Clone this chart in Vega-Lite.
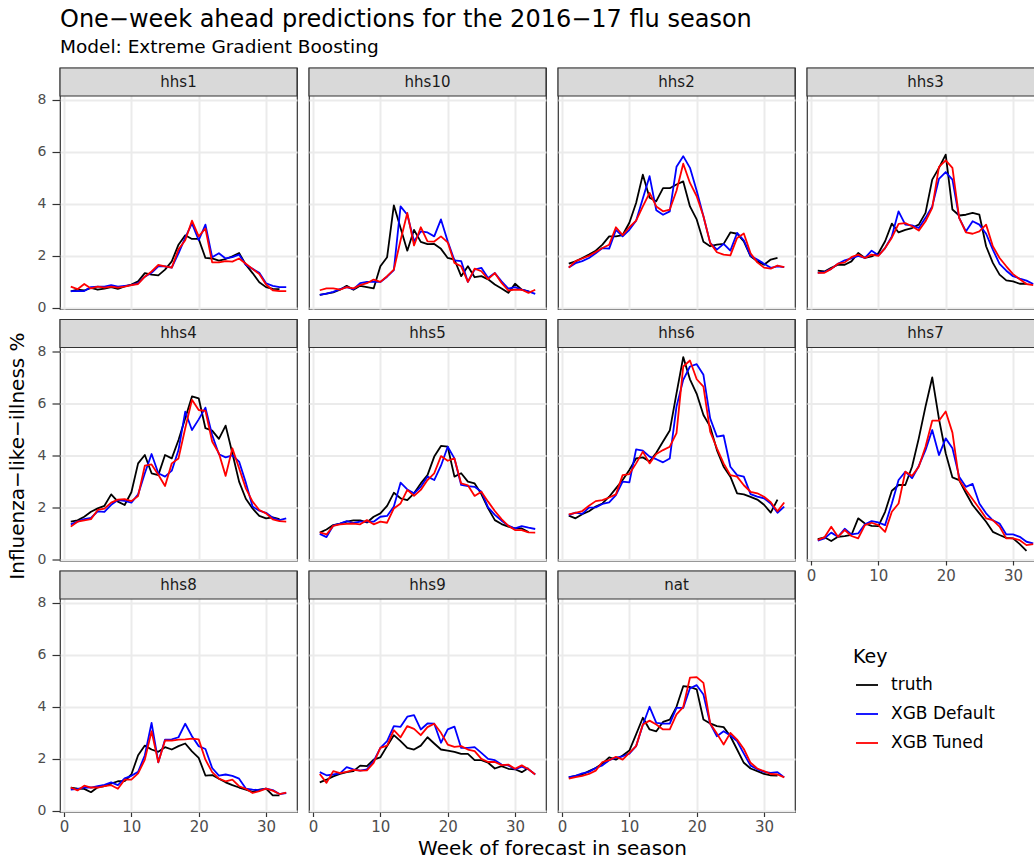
{
"$schema":"https://vega.github.io/schema/vega-lite/v6.json",
"padding":{"left":6,"top":8,"right":0,"bottom":2},
"title":{"text":"One−week ahead predictions for the 2016−17 flu season","subtitle":"Model: Extreme Gradient Boosting","anchor":"start","frame":"group","font":"DejaVu Sans","fontSize":24,"fontWeight":"normal","color":"#000000","subtitleFont":"DejaVu Sans","subtitleFontSize":18.5,"subtitleColor":"#000000","subtitlePadding":6,"offset":10},
"datasets":{"flu":[
{"region":"hhs1","week":1,"truth":0.64,"XGB Default":0.65,"XGB Tuned":0.82},
{"region":"hhs1","week":2,"truth":0.7,"XGB Default":0.65,"XGB Tuned":0.72},
{"region":"hhs1","week":3,"truth":0.67,"XGB Default":0.65,"XGB Tuned":0.92},
{"region":"hhs1","week":4,"truth":0.77,"XGB Default":0.8,"XGB Tuned":0.75},
{"region":"hhs1","week":5,"truth":0.7,"XGB Default":0.82,"XGB Tuned":0.82},
{"region":"hhs1","week":6,"truth":0.74,"XGB Default":0.82,"XGB Tuned":0.78},
{"region":"hhs1","week":7,"truth":0.8,"XGB Default":0.88,"XGB Tuned":0.82},
{"region":"hhs1","week":8,"truth":0.73,"XGB Default":0.82,"XGB Tuned":0.78},
{"region":"hhs1","week":9,"truth":0.83,"XGB Default":0.85,"XGB Tuned":0.82},
{"region":"hhs1","week":10,"truth":0.9,"XGB Default":0.88,"XGB Tuned":0.88},
{"region":"hhs1","week":11,"truth":1.02,"XGB Default":0.95,"XGB Tuned":0.92},
{"region":"hhs1","week":12,"truth":1.34,"XGB Default":1.2,"XGB Tuned":1.2},
{"region":"hhs1","week":13,"truth":1.28,"XGB Default":1.35,"XGB Tuned":1.4},
{"region":"hhs1","week":14,"truth":1.25,"XGB Default":1.6,"XGB Tuned":1.65},
{"region":"hhs1","week":15,"truth":1.47,"XGB Default":1.6,"XGB Tuned":1.6},
{"region":"hhs1","week":16,"truth":1.79,"XGB Default":1.55,"XGB Tuned":1.55},
{"region":"hhs1","week":17,"truth":2.43,"XGB Default":2.1,"XGB Tuned":2.25},
{"region":"hhs1","week":18,"truth":2.79,"XGB Default":2.7,"XGB Tuned":2.6},
{"region":"hhs1","week":19,"truth":2.65,"XGB Default":3.25,"XGB Tuned":3.35},
{"region":"hhs1","week":20,"truth":2.65,"XGB Default":2.6,"XGB Tuned":2.75},
{"region":"hhs1","week":21,"truth":1.92,"XGB Default":3.2,"XGB Tuned":3.05},
{"region":"hhs1","week":22,"truth":1.9,"XGB Default":1.95,"XGB Tuned":1.75},
{"region":"hhs1","week":23,"truth":1.82,"XGB Default":2.1,"XGB Tuned":1.75},
{"region":"hhs1","week":24,"truth":1.88,"XGB Default":1.9,"XGB Tuned":1.8},
{"region":"hhs1","week":25,"truth":1.98,"XGB Default":1.95,"XGB Tuned":1.78},
{"region":"hhs1","week":26,"truth":2.11,"XGB Default":2.05,"XGB Tuned":1.9},
{"region":"hhs1","week":27,"truth":1.66,"XGB Default":1.65,"XGB Tuned":1.7},
{"region":"hhs1","week":28,"truth":1.34,"XGB Default":1.5,"XGB Tuned":1.5},
{"region":"hhs1","week":29,"truth":0.99,"XGB Default":1.35,"XGB Tuned":1.3},
{"region":"hhs1","week":30,"truth":0.8,"XGB Default":0.95,"XGB Tuned":0.9},
{"region":"hhs1","week":31,"truth":0.73,"XGB Default":0.85,"XGB Tuned":0.68},
{"region":"hhs1","week":32,"truth":0.72,"XGB Default":0.8,"XGB Tuned":0.65},
{"region":"hhs1","week":33,"XGB Default":0.8,"XGB Tuned":0.65},
{"region":"hhs10","week":1,"truth":0.5,"XGB Default":0.5,"XGB Tuned":0.68},
{"region":"hhs10","week":2,"truth":0.55,"XGB Default":0.55,"XGB Tuned":0.75},
{"region":"hhs10","week":3,"truth":0.6,"XGB Default":0.62,"XGB Tuned":0.75},
{"region":"hhs10","week":4,"truth":0.7,"XGB Default":0.72,"XGB Tuned":0.7},
{"region":"hhs10","week":5,"truth":0.85,"XGB Default":0.8,"XGB Tuned":0.8},
{"region":"hhs10","week":6,"truth":0.7,"XGB Default":0.72,"XGB Tuned":0.75},
{"region":"hhs10","week":7,"truth":0.85,"XGB Default":0.95,"XGB Tuned":0.88},
{"region":"hhs10","week":8,"truth":0.8,"XGB Default":1.0,"XGB Tuned":0.95},
{"region":"hhs10","week":9,"truth":0.75,"XGB Default":1.0,"XGB Tuned":1.09},
{"region":"hhs10","week":10,"truth":1.6,"XGB Default":1.0,"XGB Tuned":1.0},
{"region":"hhs10","week":11,"truth":1.95,"XGB Default":1.2,"XGB Tuned":1.22},
{"region":"hhs10","week":12,"truth":3.94,"XGB Default":1.45,"XGB Tuned":1.47},
{"region":"hhs10","week":13,"truth":3.07,"XGB Default":3.9,"XGB Tuned":2.6},
{"region":"hhs10","week":14,"truth":2.2,"XGB Default":3.58,"XGB Tuned":3.65},
{"region":"hhs10","week":15,"truth":3.0,"XGB Default":2.56,"XGB Tuned":2.4},
{"region":"hhs10","week":16,"truth":2.54,"XGB Default":2.94,"XGB Tuned":3.1},
{"region":"hhs10","week":17,"truth":2.45,"XGB Default":2.9,"XGB Tuned":2.56},
{"region":"hhs10","week":18,"truth":2.46,"XGB Default":2.75,"XGB Tuned":2.55},
{"region":"hhs10","week":19,"truth":2.27,"XGB Default":3.4,"XGB Tuned":2.75},
{"region":"hhs10","week":20,"truth":1.92,"XGB Default":2.56,"XGB Tuned":2.52},
{"region":"hhs10","week":21,"truth":1.86,"XGB Default":1.83,"XGB Tuned":1.73},
{"region":"hhs10","week":22,"truth":1.22,"XGB Default":1.8,"XGB Tuned":1.6},
{"region":"hhs10","week":23,"truth":1.6,"XGB Default":1.0,"XGB Tuned":1.0},
{"region":"hhs10","week":24,"truth":1.18,"XGB Default":1.47,"XGB Tuned":1.51},
{"region":"hhs10","week":25,"truth":1.22,"XGB Default":1.54,"XGB Tuned":1.41},
{"region":"hhs10","week":26,"truth":1.1,"XGB Default":1.15,"XGB Tuned":1.11},
{"region":"hhs10","week":27,"truth":0.9,"XGB Default":1.34,"XGB Tuned":1.34},
{"region":"hhs10","week":28,"truth":0.75,"XGB Default":1.02,"XGB Tuned":0.96},
{"region":"hhs10","week":29,"truth":0.58,"XGB Default":0.74,"XGB Tuned":0.67},
{"region":"hhs10","week":30,"truth":0.93,"XGB Default":0.8,"XGB Tuned":0.7},
{"region":"hhs10","week":31,"truth":0.7,"XGB Default":0.7,"XGB Tuned":0.7},
{"region":"hhs10","week":32,"truth":0.64,"XGB Default":0.64,"XGB Tuned":0.58},
{"region":"hhs10","week":33,"XGB Default":0.54,"XGB Tuned":0.7},
{"region":"hhs2","week":1,"truth":1.7,"XGB Default":1.55,"XGB Tuned":1.55},
{"region":"hhs2","week":2,"truth":1.79,"XGB Default":1.72,"XGB Tuned":1.8},
{"region":"hhs2","week":3,"truth":1.92,"XGB Default":1.8,"XGB Tuned":1.9},
{"region":"hhs2","week":4,"truth":2.05,"XGB Default":1.92,"XGB Tuned":2.0},
{"region":"hhs2","week":5,"truth":2.2,"XGB Default":2.1,"XGB Tuned":2.15},
{"region":"hhs2","week":6,"truth":2.43,"XGB Default":2.3,"XGB Tuned":2.3},
{"region":"hhs2","week":7,"truth":2.75,"XGB Default":2.28,"XGB Tuned":2.43},
{"region":"hhs2","week":8,"truth":2.75,"XGB Default":3.0,"XGB Tuned":3.1},
{"region":"hhs2","week":9,"truth":2.8,"XGB Default":2.75,"XGB Tuned":2.8},
{"region":"hhs2","week":10,"truth":3.27,"XGB Default":3.0,"XGB Tuned":3.1},
{"region":"hhs2","week":11,"truth":4.03,"XGB Default":3.35,"XGB Tuned":3.35},
{"region":"hhs2","week":12,"truth":5.12,"XGB Default":4.2,"XGB Tuned":3.9},
{"region":"hhs2","week":13,"truth":4.23,"XGB Default":5.06,"XGB Tuned":4.42},
{"region":"hhs2","week":14,"truth":4.1,"XGB Default":3.75,"XGB Tuned":3.9},
{"region":"hhs2","week":15,"truth":4.6,"XGB Default":3.58,"XGB Tuned":3.71},
{"region":"hhs2","week":16,"truth":4.6,"XGB Default":3.71,"XGB Tuned":3.78},
{"region":"hhs2","week":17,"truth":4.74,"XGB Default":5.42,"XGB Tuned":4.5},
{"region":"hhs2","week":18,"truth":4.86,"XGB Default":5.83,"XGB Tuned":5.54},
{"region":"hhs2","week":19,"truth":3.9,"XGB Default":5.38,"XGB Tuned":4.8},
{"region":"hhs2","week":20,"truth":3.4,"XGB Default":4.5,"XGB Tuned":4.29},
{"region":"hhs2","week":21,"truth":2.54,"XGB Default":3.52,"XGB Tuned":3.52},
{"region":"hhs2","week":22,"truth":2.37,"XGB Default":2.5,"XGB Tuned":2.5},
{"region":"hhs2","week":23,"truth":2.43,"XGB Default":2.24,"XGB Tuned":2.14},
{"region":"hhs2","week":24,"truth":2.46,"XGB Default":2.46,"XGB Tuned":2.05},
{"region":"hhs2","week":25,"truth":2.9,"XGB Default":2.2,"XGB Tuned":2.02},
{"region":"hhs2","week":26,"truth":2.85,"XGB Default":2.88,"XGB Tuned":2.69},
{"region":"hhs2","week":27,"truth":2.56,"XGB Default":2.6,"XGB Tuned":2.86},
{"region":"hhs2","week":28,"truth":1.98,"XGB Default":2.0,"XGB Tuned":2.1},
{"region":"hhs2","week":29,"truth":1.79,"XGB Default":1.86,"XGB Tuned":1.75},
{"region":"hhs2","week":30,"truth":1.66,"XGB Default":1.7,"XGB Tuned":1.55},
{"region":"hhs2","week":31,"truth":1.86,"XGB Default":1.54,"XGB Tuned":1.51},
{"region":"hhs2","week":32,"truth":1.92,"XGB Default":1.6,"XGB Tuned":1.63},
{"region":"hhs2","week":33,"XGB Default":1.57,"XGB Tuned":1.57},
{"region":"hhs3","week":1,"truth":1.43,"XGB Default":1.35,"XGB Tuned":1.35},
{"region":"hhs3","week":2,"truth":1.4,"XGB Default":1.38,"XGB Tuned":1.35},
{"region":"hhs3","week":3,"truth":1.54,"XGB Default":1.5,"XGB Tuned":1.5},
{"region":"hhs3","week":4,"truth":1.66,"XGB Default":1.7,"XGB Tuned":1.7},
{"region":"hhs3","week":5,"truth":1.66,"XGB Default":1.83,"XGB Tuned":1.75},
{"region":"hhs3","week":6,"truth":1.79,"XGB Default":1.9,"XGB Tuned":1.95},
{"region":"hhs3","week":7,"truth":2.11,"XGB Default":2.0,"XGB Tuned":2.05},
{"region":"hhs3","week":8,"truth":1.92,"XGB Default":1.92,"XGB Tuned":1.92},
{"region":"hhs3","week":9,"truth":1.98,"XGB Default":2.2,"XGB Tuned":2.05},
{"region":"hhs3","week":10,"truth":2.1,"XGB Default":2.02,"XGB Tuned":2.0},
{"region":"hhs3","week":11,"truth":2.56,"XGB Default":2.3,"XGB Tuned":2.3},
{"region":"hhs3","week":12,"truth":3.24,"XGB Default":2.75,"XGB Tuned":2.7},
{"region":"hhs3","week":13,"truth":2.9,"XGB Default":3.71,"XGB Tuned":3.23},
{"region":"hhs3","week":14,"truth":3.0,"XGB Default":3.2,"XGB Tuned":3.26},
{"region":"hhs3","week":15,"truth":3.07,"XGB Default":3.17,"XGB Tuned":3.14},
{"region":"hhs3","week":16,"truth":3.2,"XGB Default":3.07,"XGB Tuned":2.97},
{"region":"hhs3","week":17,"truth":3.65,"XGB Default":3.46,"XGB Tuned":3.33},
{"region":"hhs3","week":18,"truth":4.93,"XGB Default":3.9,"XGB Tuned":3.84},
{"region":"hhs3","week":19,"truth":5.38,"XGB Default":4.96,"XGB Tuned":5.42},
{"region":"hhs3","week":20,"truth":5.89,"XGB Default":5.22,"XGB Tuned":5.67},
{"region":"hhs3","week":21,"truth":3.78,"XGB Default":4.93,"XGB Tuned":5.38},
{"region":"hhs3","week":22,"truth":3.55,"XGB Default":3.46,"XGB Tuned":3.46},
{"region":"hhs3","week":23,"truth":3.58,"XGB Default":2.94,"XGB Tuned":2.9},
{"region":"hhs3","week":24,"truth":3.65,"XGB Default":3.33,"XGB Tuned":2.85},
{"region":"hhs3","week":25,"truth":3.58,"XGB Default":3.2,"XGB Tuned":2.94},
{"region":"hhs3","week":26,"truth":2.37,"XGB Default":2.85,"XGB Tuned":3.2},
{"region":"hhs3","week":27,"truth":1.73,"XGB Default":2.24,"XGB Tuned":2.37},
{"region":"hhs3","week":28,"truth":1.28,"XGB Default":1.69,"XGB Tuned":1.92},
{"region":"hhs3","week":29,"truth":1.06,"XGB Default":1.43,"XGB Tuned":1.6},
{"region":"hhs3","week":30,"truth":1.02,"XGB Default":1.22,"XGB Tuned":1.3},
{"region":"hhs3","week":31,"truth":0.93,"XGB Default":1.13,"XGB Tuned":1.1},
{"region":"hhs3","week":32,"truth":0.93,"XGB Default":1.05,"XGB Tuned":0.92},
{"region":"hhs3","week":33,"XGB Default":0.92,"XGB Tuned":0.88},
{"region":"hhs4","week":1,"truth":1.45,"XGB Default":1.35,"XGB Tuned":1.26},
{"region":"hhs4","week":2,"truth":1.5,"XGB Default":1.45,"XGB Tuned":1.45},
{"region":"hhs4","week":3,"truth":1.64,"XGB Default":1.55,"XGB Tuned":1.5},
{"region":"hhs4","week":4,"truth":1.83,"XGB Default":1.6,"XGB Tuned":1.55},
{"region":"hhs4","week":5,"truth":1.96,"XGB Default":1.85,"XGB Tuned":1.9},
{"region":"hhs4","week":6,"truth":2.06,"XGB Default":1.83,"XGB Tuned":1.95},
{"region":"hhs4","week":7,"truth":2.5,"XGB Default":2.1,"XGB Tuned":2.18},
{"region":"hhs4","week":8,"truth":2.22,"XGB Default":2.28,"XGB Tuned":2.3},
{"region":"hhs4","week":9,"truth":2.09,"XGB Default":2.25,"XGB Tuned":2.32},
{"region":"hhs4","week":10,"truth":2.58,"XGB Default":2.18,"XGB Tuned":2.24},
{"region":"hhs4","week":11,"truth":3.69,"XGB Default":2.5,"XGB Tuned":2.44},
{"region":"hhs4","week":12,"truth":4.01,"XGB Default":3.31,"XGB Tuned":3.6},
{"region":"hhs4","week":13,"truth":3.31,"XGB Default":4.05,"XGB Tuned":3.65},
{"region":"hhs4","week":14,"truth":3.24,"XGB Default":3.31,"XGB Tuned":3.25},
{"region":"hhs4","week":15,"truth":4.01,"XGB Default":3.18,"XGB Tuned":2.82},
{"region":"hhs4","week":16,"truth":3.88,"XGB Default":3.41,"XGB Tuned":3.69},
{"region":"hhs4","week":17,"truth":4.59,"XGB Default":4.2,"XGB Tuned":3.88},
{"region":"hhs4","week":18,"truth":5.42,"XGB Default":5.68,"XGB Tuned":5.04},
{"region":"hhs4","week":19,"truth":6.26,"XGB Default":4.97,"XGB Tuned":6.13},
{"region":"hhs4","week":20,"truth":6.19,"XGB Default":5.38,"XGB Tuned":5.74},
{"region":"hhs4","week":21,"truth":5.04,"XGB Default":5.83,"XGB Tuned":5.71},
{"region":"hhs4","week":22,"truth":4.95,"XGB Default":4.78,"XGB Tuned":4.53},
{"region":"hhs4","week":23,"truth":4.63,"XGB Default":4.04,"XGB Tuned":4.08},
{"region":"hhs4","week":24,"truth":5.14,"XGB Default":3.92,"XGB Tuned":3.21},
{"region":"hhs4","week":25,"truth":4.08,"XGB Default":4.0,"XGB Tuned":4.27},
{"region":"hhs4","week":26,"truth":2.99,"XGB Default":3.76,"XGB Tuned":3.5},
{"region":"hhs4","week":27,"truth":2.33,"XGB Default":2.95,"XGB Tuned":2.73},
{"region":"hhs4","week":28,"truth":1.96,"XGB Default":2.03,"XGB Tuned":2.22},
{"region":"hhs4","week":29,"truth":1.67,"XGB Default":1.87,"XGB Tuned":1.9},
{"region":"hhs4","week":30,"truth":1.58,"XGB Default":1.79,"XGB Tuned":1.77},
{"region":"hhs4","week":31,"truth":1.62,"XGB Default":1.6,"XGB Tuned":1.54},
{"region":"hhs4","week":32,"truth":1.55,"XGB Default":1.51,"XGB Tuned":1.47},
{"region":"hhs4","week":33,"XGB Default":1.58,"XGB Tuned":1.45},
{"region":"hhs5","week":1,"truth":1.03,"XGB Default":0.98,"XGB Tuned":1.04},
{"region":"hhs5","week":2,"truth":1.15,"XGB Default":0.86,"XGB Tuned":0.96},
{"region":"hhs5","week":3,"truth":1.32,"XGB Default":1.3,"XGB Tuned":1.29},
{"region":"hhs5","week":4,"truth":1.38,"XGB Default":1.38,"XGB Tuned":1.35},
{"region":"hhs5","week":5,"truth":1.45,"XGB Default":1.47,"XGB Tuned":1.37},
{"region":"hhs5","week":6,"truth":1.5,"XGB Default":1.4,"XGB Tuned":1.38},
{"region":"hhs5","week":7,"truth":1.5,"XGB Default":1.45,"XGB Tuned":1.35},
{"region":"hhs5","week":8,"truth":1.42,"XGB Default":1.45,"XGB Tuned":1.51},
{"region":"hhs5","week":9,"truth":1.64,"XGB Default":1.45,"XGB Tuned":1.35},
{"region":"hhs5","week":10,"truth":1.77,"XGB Default":1.64,"XGB Tuned":1.45},
{"region":"hhs5","week":11,"truth":2.06,"XGB Default":1.67,"XGB Tuned":1.41},
{"region":"hhs5","week":12,"truth":2.56,"XGB Default":2.03,"XGB Tuned":1.96},
{"region":"hhs5","week":13,"truth":2.35,"XGB Default":2.95,"XGB Tuned":2.15},
{"region":"hhs5","week":14,"truth":2.28,"XGB Default":2.69,"XGB Tuned":2.67},
{"region":"hhs5","week":15,"truth":2.54,"XGB Default":2.54,"XGB Tuned":2.44},
{"region":"hhs5","week":16,"truth":2.92,"XGB Default":2.79,"XGB Tuned":2.67},
{"region":"hhs5","week":17,"truth":3.24,"XGB Default":3.18,"XGB Tuned":3.05},
{"region":"hhs5","week":18,"truth":3.95,"XGB Default":3.05,"XGB Tuned":3.31},
{"region":"hhs5","week":19,"truth":4.36,"XGB Default":3.6,"XGB Tuned":3.97},
{"region":"hhs5","week":20,"truth":4.33,"XGB Default":4.33,"XGB Tuned":3.79},
{"region":"hhs5","week":21,"truth":3.18,"XGB Default":3.88,"XGB Tuned":3.88},
{"region":"hhs5","week":22,"truth":3.31,"XGB Default":2.86,"XGB Tuned":2.92},
{"region":"hhs5","week":23,"truth":2.99,"XGB Default":2.82,"XGB Tuned":2.85},
{"region":"hhs5","week":24,"truth":2.92,"XGB Default":2.79,"XGB Tuned":2.44},
{"region":"hhs5","week":25,"truth":2.51,"XGB Default":2.6,"XGB Tuned":2.6},
{"region":"hhs5","week":26,"truth":1.96,"XGB Default":2.0,"XGB Tuned":2.22},
{"region":"hhs5","week":27,"truth":1.51,"XGB Default":1.71,"XGB Tuned":1.86},
{"region":"hhs5","week":28,"truth":1.36,"XGB Default":1.49,"XGB Tuned":1.55},
{"region":"hhs5","week":29,"truth":1.26,"XGB Default":1.3,"XGB Tuned":1.29},
{"region":"hhs5","week":30,"truth":1.19,"XGB Default":1.19,"XGB Tuned":1.13},
{"region":"hhs5","week":31,"truth":1.19,"XGB Default":1.28,"XGB Tuned":1.13},
{"region":"hhs5","week":32,"truth":1.05,"XGB Default":1.22,"XGB Tuned":1.04},
{"region":"hhs5","week":33,"XGB Default":1.17,"XGB Tuned":1.03},
{"region":"hhs6","week":1,"truth":1.68,"XGB Default":1.7,"XGB Tuned":1.73},
{"region":"hhs6","week":2,"truth":1.58,"XGB Default":1.8,"XGB Tuned":1.79},
{"region":"hhs6","week":3,"truth":1.74,"XGB Default":1.75,"XGB Tuned":1.86},
{"region":"hhs6","week":4,"truth":1.85,"XGB Default":1.99,"XGB Tuned":2.06},
{"region":"hhs6","week":5,"truth":2.03,"XGB Default":2.0,"XGB Tuned":2.24},
{"region":"hhs6","week":6,"truth":2.15,"XGB Default":2.13,"XGB Tuned":2.28},
{"region":"hhs6","week":7,"truth":2.41,"XGB Default":2.19,"XGB Tuned":2.38},
{"region":"hhs6","week":8,"truth":2.73,"XGB Default":2.47,"XGB Tuned":2.5},
{"region":"hhs6","week":9,"truth":3.05,"XGB Default":2.99,"XGB Tuned":3.24},
{"region":"hhs6","week":10,"truth":3.44,"XGB Default":2.96,"XGB Tuned":3.28},
{"region":"hhs6","week":11,"truth":3.88,"XGB Default":4.23,"XGB Tuned":3.69},
{"region":"hhs6","week":12,"truth":3.92,"XGB Default":4.18,"XGB Tuned":4.14},
{"region":"hhs6","week":13,"truth":3.76,"XGB Default":3.95,"XGB Tuned":3.69},
{"region":"hhs6","week":14,"truth":4.1,"XGB Default":3.85,"XGB Tuned":4.05},
{"region":"hhs6","week":15,"truth":4.53,"XGB Default":3.73,"XGB Tuned":4.2},
{"region":"hhs6","week":16,"truth":4.95,"XGB Default":3.88,"XGB Tuned":4.33},
{"region":"hhs6","week":17,"truth":6.38,"XGB Default":5.87,"XGB Tuned":4.85},
{"region":"hhs6","week":18,"truth":7.77,"XGB Default":6.9,"XGB Tuned":7.41},
{"region":"hhs6","week":19,"truth":6.92,"XGB Default":7.41,"XGB Tuned":7.64},
{"region":"hhs6","week":20,"truth":6.36,"XGB Default":7.5,"XGB Tuned":6.92},
{"region":"hhs6","week":21,"truth":5.55,"XGB Default":7.09,"XGB Tuned":6.64},
{"region":"hhs6","week":22,"truth":5.1,"XGB Default":5.42,"XGB Tuned":4.91},
{"region":"hhs6","week":23,"truth":4.2,"XGB Default":4.72,"XGB Tuned":4.27},
{"region":"hhs6","week":24,"truth":3.56,"XGB Default":4.76,"XGB Tuned":3.69},
{"region":"hhs6","week":25,"truth":3.18,"XGB Default":3.56,"XGB Tuned":3.24},
{"region":"hhs6","week":26,"truth":2.54,"XGB Default":3.24,"XGB Tuned":3.18},
{"region":"hhs6","week":27,"truth":2.5,"XGB Default":3.18,"XGB Tuned":2.85},
{"region":"hhs6","week":28,"truth":2.4,"XGB Default":2.51,"XGB Tuned":2.6},
{"region":"hhs6","week":29,"truth":2.3,"XGB Default":2.41,"XGB Tuned":2.54},
{"region":"hhs6","week":30,"truth":2.1,"XGB Default":2.35,"XGB Tuned":2.41},
{"region":"hhs6","week":31,"truth":1.8,"XGB Default":2.15,"XGB Tuned":2.2},
{"region":"hhs6","week":32,"truth":2.3,"XGB Default":1.79,"XGB Tuned":1.85},
{"region":"hhs6","week":33,"XGB Default":2.03,"XGB Tuned":2.19},
{"region":"hhs7","week":1,"truth":0.78,"XGB Default":0.72,"XGB Tuned":0.75},
{"region":"hhs7","week":2,"truth":0.85,"XGB Default":0.81,"XGB Tuned":0.85},
{"region":"hhs7","week":3,"truth":0.71,"XGB Default":1.03,"XGB Tuned":1.26},
{"region":"hhs7","week":4,"truth":0.87,"XGB Default":0.87,"XGB Tuned":0.87},
{"region":"hhs7","week":5,"truth":0.9,"XGB Default":1.18,"XGB Tuned":1.13},
{"region":"hhs7","week":6,"truth":0.94,"XGB Default":0.96,"XGB Tuned":0.9},
{"region":"hhs7","week":7,"truth":1.58,"XGB Default":1.0,"XGB Tuned":0.81},
{"region":"hhs7","week":8,"truth":1.38,"XGB Default":1.35,"XGB Tuned":1.32},
{"region":"hhs7","week":9,"truth":1.29,"XGB Default":1.47,"XGB Tuned":1.41},
{"region":"hhs7","week":10,"truth":1.28,"XGB Default":1.42,"XGB Tuned":1.32},
{"region":"hhs7","week":11,"truth":1.83,"XGB Default":1.32,"XGB Tuned":1.06},
{"region":"hhs7","week":12,"truth":2.64,"XGB Default":2.15,"XGB Tuned":1.83},
{"region":"hhs7","week":13,"truth":2.86,"XGB Default":3.05,"XGB Tuned":2.15},
{"region":"hhs7","week":14,"truth":2.86,"XGB Default":3.37,"XGB Tuned":3.37},
{"region":"hhs7","week":15,"truth":3.56,"XGB Default":3.12,"XGB Tuned":3.21},
{"region":"hhs7","week":16,"truth":4.65,"XGB Default":3.59,"XGB Tuned":3.56},
{"region":"hhs7","week":17,"truth":5.87,"XGB Default":4.2,"XGB Tuned":4.33},
{"region":"hhs7","week":18,"truth":6.99,"XGB Default":4.97,"XGB Tuned":5.33},
{"region":"hhs7","week":19,"truth":5.4,"XGB Default":4.01,"XGB Tuned":5.33},
{"region":"hhs7","week":20,"truth":4.08,"XGB Default":4.65,"XGB Tuned":5.68},
{"region":"hhs7","week":21,"truth":3.15,"XGB Default":4.27,"XGB Tuned":4.87},
{"region":"hhs7","week":22,"truth":3.05,"XGB Default":3.18,"XGB Tuned":3.05},
{"region":"hhs7","week":23,"truth":2.55,"XGB Default":2.79,"XGB Tuned":2.67},
{"region":"hhs7","week":24,"truth":2.09,"XGB Default":2.9,"XGB Tuned":2.31},
{"region":"hhs7","week":25,"truth":1.77,"XGB Default":2.15,"XGB Tuned":1.96},
{"region":"hhs7","week":26,"truth":1.45,"XGB Default":1.77,"XGB Tuned":1.58},
{"region":"hhs7","week":27,"truth":1.06,"XGB Default":1.5,"XGB Tuned":1.51},
{"region":"hhs7","week":28,"truth":0.94,"XGB Default":1.38,"XGB Tuned":1.26},
{"region":"hhs7","week":29,"truth":0.83,"XGB Default":0.96,"XGB Tuned":0.81},
{"region":"hhs7","week":30,"truth":0.81,"XGB Default":0.96,"XGB Tuned":0.81},
{"region":"hhs7","week":31,"truth":0.59,"XGB Default":0.87,"XGB Tuned":0.74},
{"region":"hhs7","week":32,"truth":0.33,"XGB Default":0.68,"XGB Tuned":0.55},
{"region":"hhs7","week":33,"XGB Default":0.62,"XGB Tuned":0.59},
{"region":"hhs8","week":1,"truth":0.9,"XGB Default":0.82,"XGB Tuned":0.9},
{"region":"hhs8","week":2,"truth":0.86,"XGB Default":0.85,"XGB Tuned":0.79},
{"region":"hhs8","week":3,"truth":0.85,"XGB Default":0.9,"XGB Tuned":0.97},
{"region":"hhs8","week":4,"truth":0.72,"XGB Default":0.9,"XGB Tuned":0.9},
{"region":"hhs8","week":5,"truth":0.91,"XGB Default":0.95,"XGB Tuned":0.9},
{"region":"hhs8","week":6,"truth":0.95,"XGB Default":1.0,"XGB Tuned":0.95},
{"region":"hhs8","week":7,"truth":1.05,"XGB Default":1.1,"XGB Tuned":0.99},
{"region":"hhs8","week":8,"truth":1.14,"XGB Default":0.99,"XGB Tuned":0.85},
{"region":"hhs8","week":9,"truth":1.15,"XGB Default":1.25,"XGB Tuned":1.2},
{"region":"hhs8","week":10,"truth":1.4,"XGB Default":1.35,"XGB Tuned":1.2},
{"region":"hhs8","week":11,"truth":2.14,"XGB Default":1.5,"XGB Tuned":1.44},
{"region":"hhs8","week":12,"truth":2.51,"XGB Default":2.14,"XGB Tuned":1.97},
{"region":"hhs8","week":13,"truth":2.36,"XGB Default":3.38,"XGB Tuned":3.06},
{"region":"hhs8","week":14,"truth":2.27,"XGB Default":1.87,"XGB Tuned":1.87},
{"region":"hhs8","week":15,"truth":2.45,"XGB Default":2.74,"XGB Tuned":2.71},
{"region":"hhs8","week":16,"truth":2.36,"XGB Default":2.75,"XGB Tuned":2.7},
{"region":"hhs8","week":17,"truth":2.49,"XGB Default":2.83,"XGB Tuned":2.74},
{"region":"hhs8","week":18,"truth":2.59,"XGB Default":3.35,"XGB Tuned":2.75},
{"region":"hhs8","week":19,"truth":2.29,"XGB Default":2.87,"XGB Tuned":2.78},
{"region":"hhs8","week":20,"truth":2.04,"XGB Default":2.49,"XGB Tuned":2.75},
{"region":"hhs8","week":21,"truth":1.36,"XGB Default":2.38,"XGB Tuned":1.97},
{"region":"hhs8","week":22,"truth":1.38,"XGB Default":1.65,"XGB Tuned":1.49},
{"region":"hhs8","week":23,"truth":1.24,"XGB Default":1.36,"XGB Tuned":1.24},
{"region":"hhs8","week":24,"truth":1.1,"XGB Default":1.4,"XGB Tuned":1.14},
{"region":"hhs8","week":25,"truth":0.99,"XGB Default":1.35,"XGB Tuned":1.2},
{"region":"hhs8","week":26,"truth":0.9,"XGB Default":1.24,"XGB Tuned":0.95},
{"region":"hhs8","week":27,"truth":0.82,"XGB Default":0.86,"XGB Tuned":0.85},
{"region":"hhs8","week":28,"truth":0.73,"XGB Default":0.82,"XGB Tuned":0.69},
{"region":"hhs8","week":29,"truth":0.82,"XGB Default":0.8,"XGB Tuned":0.76},
{"region":"hhs8","week":30,"truth":0.86,"XGB Default":0.86,"XGB Tuned":0.86},
{"region":"hhs8","week":31,"truth":0.6,"XGB Default":0.8,"XGB Tuned":0.78},
{"region":"hhs8","week":32,"truth":0.6,"XGB Default":0.65,"XGB Tuned":0.65},
{"region":"hhs8","week":33,"XGB Default":0.69,"XGB Tuned":0.7},
{"region":"hhs9","week":1,"truth":1.1,"XGB Default":1.49,"XGB Tuned":1.42},
{"region":"hhs9","week":2,"truth":1.2,"XGB Default":1.37,"XGB Tuned":1.08},
{"region":"hhs9","week":3,"truth":1.33,"XGB Default":1.4,"XGB Tuned":1.53},
{"region":"hhs9","week":4,"truth":1.42,"XGB Default":1.44,"XGB Tuned":1.45},
{"region":"hhs9","week":5,"truth":1.49,"XGB Default":1.68,"XGB Tuned":1.5},
{"region":"hhs9","week":6,"truth":1.53,"XGB Default":1.6,"XGB Tuned":1.58},
{"region":"hhs9","week":7,"truth":1.74,"XGB Default":1.55,"XGB Tuned":1.55},
{"region":"hhs9","week":8,"truth":1.72,"XGB Default":1.6,"XGB Tuned":1.56},
{"region":"hhs9","week":9,"truth":1.97,"XGB Default":1.91,"XGB Tuned":1.85},
{"region":"hhs9","week":10,"truth":2.06,"XGB Default":2.42,"XGB Tuned":2.42},
{"region":"hhs9","week":11,"truth":2.49,"XGB Default":2.68,"XGB Tuned":2.51},
{"region":"hhs9","week":12,"truth":2.91,"XGB Default":3.26,"XGB Tuned":3.1},
{"region":"hhs9","week":13,"truth":2.68,"XGB Default":3.23,"XGB Tuned":2.83},
{"region":"hhs9","week":14,"truth":2.42,"XGB Default":3.62,"XGB Tuned":3.26},
{"region":"hhs9","week":15,"truth":2.36,"XGB Default":3.68,"XGB Tuned":3.15},
{"region":"hhs9","week":16,"truth":2.51,"XGB Default":3.13,"XGB Tuned":2.91},
{"region":"hhs9","week":17,"truth":2.83,"XGB Default":3.36,"XGB Tuned":3.22},
{"region":"hhs9","week":18,"truth":2.59,"XGB Default":3.35,"XGB Tuned":3.35},
{"region":"hhs9","week":19,"truth":2.36,"XGB Default":2.62,"XGB Tuned":3.0},
{"region":"hhs9","week":20,"truth":2.32,"XGB Default":3.13,"XGB Tuned":2.55},
{"region":"hhs9","week":21,"truth":2.27,"XGB Default":3.24,"XGB Tuned":2.46},
{"region":"hhs9","week":22,"truth":2.19,"XGB Default":2.42,"XGB Tuned":2.49},
{"region":"hhs9","week":23,"truth":2.19,"XGB Default":2.42,"XGB Tuned":2.36},
{"region":"hhs9","week":24,"truth":1.95,"XGB Default":2.45,"XGB Tuned":2.3},
{"region":"hhs9","week":25,"truth":1.95,"XGB Default":2.23,"XGB Tuned":2.0},
{"region":"hhs9","week":26,"truth":1.85,"XGB Default":2.0,"XGB Tuned":1.88},
{"region":"hhs9","week":27,"truth":1.63,"XGB Default":1.95,"XGB Tuned":1.88},
{"region":"hhs9","week":28,"truth":1.72,"XGB Default":1.78,"XGB Tuned":1.76},
{"region":"hhs9","week":29,"truth":1.62,"XGB Default":1.75,"XGB Tuned":1.78},
{"region":"hhs9","week":30,"truth":1.6,"XGB Default":1.6,"XGB Tuned":1.62},
{"region":"hhs9","week":31,"truth":1.49,"XGB Default":1.7,"XGB Tuned":1.75},
{"region":"hhs9","week":32,"truth":1.65,"XGB Default":1.6,"XGB Tuned":1.6},
{"region":"hhs9","week":33,"XGB Default":1.4,"XGB Tuned":1.4},
{"region":"nat","week":1,"truth":1.29,"XGB Default":1.3,"XGB Tuned":1.24},
{"region":"nat","week":2,"truth":1.35,"XGB Default":1.35,"XGB Tuned":1.3},
{"region":"nat","week":3,"truth":1.4,"XGB Default":1.44,"XGB Tuned":1.35},
{"region":"nat","week":4,"truth":1.53,"XGB Default":1.5,"XGB Tuned":1.42},
{"region":"nat","week":5,"truth":1.65,"XGB Default":1.65,"XGB Tuned":1.55},
{"region":"nat","week":6,"truth":1.82,"XGB Default":1.75,"XGB Tuned":1.88},
{"region":"nat","week":7,"truth":2.06,"XGB Default":1.95,"XGB Tuned":1.95},
{"region":"nat","week":8,"truth":1.97,"XGB Default":2.05,"XGB Tuned":2.08},
{"region":"nat","week":9,"truth":2.13,"XGB Default":2.1,"XGB Tuned":1.97},
{"region":"nat","week":10,"truth":2.32,"XGB Default":2.2,"XGB Tuned":2.23},
{"region":"nat","week":11,"truth":2.94,"XGB Default":2.49,"XGB Tuned":2.49},
{"region":"nat","week":12,"truth":3.58,"XGB Default":3.3,"XGB Tuned":3.32},
{"region":"nat","week":13,"truth":3.13,"XGB Default":4.0,"XGB Tuned":3.47},
{"region":"nat","week":14,"truth":3.06,"XGB Default":3.38,"XGB Tuned":3.32},
{"region":"nat","week":15,"truth":3.42,"XGB Default":3.35,"XGB Tuned":3.13},
{"region":"nat","week":16,"truth":3.51,"XGB Default":3.35,"XGB Tuned":3.13},
{"region":"nat","week":17,"truth":4.0,"XGB Default":3.96,"XGB Tuned":3.71},
{"region":"nat","week":18,"truth":4.79,"XGB Default":3.96,"XGB Tuned":3.99},
{"region":"nat","week":19,"truth":4.76,"XGB Default":4.71,"XGB Tuned":5.12},
{"region":"nat","week":20,"truth":4.67,"XGB Default":4.83,"XGB Tuned":5.14},
{"region":"nat","week":21,"truth":3.51,"XGB Default":4.47,"XGB Tuned":4.92},
{"region":"nat","week":22,"truth":3.36,"XGB Default":3.36,"XGB Tuned":3.36},
{"region":"nat","week":23,"truth":3.26,"XGB Default":2.87,"XGB Tuned":2.97},
{"region":"nat","week":24,"truth":3.22,"XGB Default":3.06,"XGB Tuned":2.55},
{"region":"nat","week":25,"truth":2.87,"XGB Default":2.9,"XGB Tuned":3.0},
{"region":"nat","week":26,"truth":2.36,"XGB Default":2.68,"XGB Tuned":2.74},
{"region":"nat","week":27,"truth":1.85,"XGB Default":2.2,"XGB Tuned":2.38},
{"region":"nat","week":28,"truth":1.63,"XGB Default":1.74,"XGB Tuned":1.85},
{"region":"nat","week":29,"truth":1.53,"XGB Default":1.6,"XGB Tuned":1.63},
{"region":"nat","week":30,"truth":1.42,"XGB Default":1.5,"XGB Tuned":1.53},
{"region":"nat","week":31,"truth":1.37,"XGB Default":1.46,"XGB Tuned":1.42},
{"region":"nat","week":32,"truth":1.36,"XGB Default":1.49,"XGB Tuned":1.4},
{"region":"nat","week":33,"XGB Default":1.29,"XGB Tuned":1.29}
]},
"data":{"name":"flu"},
"columns":4,
"spacing":{"row":10.5,"column":12},
"bounds":"flush",
"concat":[
{"width":237,"height":241,"transform":[{"filter":{"field":"region","equal":"hhs1"}}],"layer":[
{"transform":[{"fold":["truth","XGB Default","XGB Tuned"],"as":["series","value"]},{"filter":"isValid(datum.value)"}],"mark":{"type":"line","strokeWidth":1.8,"strokeJoin":"round"},"encoding":{
"x":{"field":"week","type":"quantitative","scale":{"domain":[-0.6,34.6],"nice":false,"zero":false},"axis":{"values":[0,5,10,15,20,25,30],"gridWidth":{"condition":{"test":"datum.value % 10 === 0","value":2},"value":1},"ticks":false,"labels":false,"title":null}},
"y":{"field":"value","type":"quantitative","scale":{"domain":[-0.04,9.215],"nice":false,"zero":false},"axis":{"values":[0,1,2,3,4,5,6,7,8],"gridWidth":{"condition":{"test":"datum.value % 2 === 0","value":2},"value":1},"tickOpacity":{"condition":{"test":"datum.value % 2 === 0","value":1},"value":0},"labelExpr":"datum.value % 2 === 0 ? datum.label : ''","title":null}},
"color":{"field":"series","type":"nominal","title":"Key","scale":{"domain":["truth","XGB Default","XGB Tuned"],"range":["#000000","#0000ff","#ff0000"]}}}},
{"transform":[{"aggregate":[{"op":"count","as":"n"}],"groupby":["region"]}],"mark":{"type":"rect","fill":"#d9d9d9","stroke":"#333333","strokeWidth":1.2},"encoding":{"x":{"datum":-0.6},"x2":{"datum":34.6},"y":{"datum":8.14},"y2":{"datum":9.215}}},
{"transform":[{"aggregate":[{"op":"count","as":"n"}],"groupby":["region"]}],"mark":{"type":"text","font":"DejaVu Sans","fontSize":15,"color":"#1a1a1a"},"encoding":{"y":{"datum":8.68},"text":{"field":"region","type":"nominal"}}}
]},
{"width":237,"height":241,"transform":[{"filter":{"field":"region","equal":"hhs10"}}],"layer":[
{"transform":[{"fold":["truth","XGB Default","XGB Tuned"],"as":["series","value"]},{"filter":"isValid(datum.value)"}],"mark":{"type":"line","strokeWidth":1.8,"strokeJoin":"round"},"encoding":{
"x":{"field":"week","type":"quantitative","scale":{"domain":[-0.6,34.6],"nice":false,"zero":false},"axis":{"values":[0,5,10,15,20,25,30],"gridWidth":{"condition":{"test":"datum.value % 10 === 0","value":2},"value":1},"ticks":false,"labels":false,"title":null}},
"y":{"field":"value","type":"quantitative","scale":{"domain":[-0.04,9.215],"nice":false,"zero":false},"axis":{"values":[0,1,2,3,4,5,6,7,8],"gridWidth":{"condition":{"test":"datum.value % 2 === 0","value":2},"value":1},"ticks":false,"labels":false,"title":null}},
"color":{"field":"series","type":"nominal","title":"Key","scale":{"domain":["truth","XGB Default","XGB Tuned"],"range":["#000000","#0000ff","#ff0000"]}}}},
{"transform":[{"aggregate":[{"op":"count","as":"n"}],"groupby":["region"]}],"mark":{"type":"rect","fill":"#d9d9d9","stroke":"#333333","strokeWidth":1.2},"encoding":{"x":{"datum":-0.6},"x2":{"datum":34.6},"y":{"datum":8.14},"y2":{"datum":9.215}}},
{"transform":[{"aggregate":[{"op":"count","as":"n"}],"groupby":["region"]}],"mark":{"type":"text","font":"DejaVu Sans","fontSize":15,"color":"#1a1a1a"},"encoding":{"y":{"datum":8.68},"text":{"field":"region","type":"nominal"}}}
]},
{"width":237,"height":241,"transform":[{"filter":{"field":"region","equal":"hhs2"}}],"layer":[
{"transform":[{"fold":["truth","XGB Default","XGB Tuned"],"as":["series","value"]},{"filter":"isValid(datum.value)"}],"mark":{"type":"line","strokeWidth":1.8,"strokeJoin":"round"},"encoding":{
"x":{"field":"week","type":"quantitative","scale":{"domain":[-0.6,34.6],"nice":false,"zero":false},"axis":{"values":[0,5,10,15,20,25,30],"gridWidth":{"condition":{"test":"datum.value % 10 === 0","value":2},"value":1},"ticks":false,"labels":false,"title":null}},
"y":{"field":"value","type":"quantitative","scale":{"domain":[-0.04,9.215],"nice":false,"zero":false},"axis":{"values":[0,1,2,3,4,5,6,7,8],"gridWidth":{"condition":{"test":"datum.value % 2 === 0","value":2},"value":1},"ticks":false,"labels":false,"title":null}},
"color":{"field":"series","type":"nominal","title":"Key","scale":{"domain":["truth","XGB Default","XGB Tuned"],"range":["#000000","#0000ff","#ff0000"]}}}},
{"transform":[{"aggregate":[{"op":"count","as":"n"}],"groupby":["region"]}],"mark":{"type":"rect","fill":"#d9d9d9","stroke":"#333333","strokeWidth":1.2},"encoding":{"x":{"datum":-0.6},"x2":{"datum":34.6},"y":{"datum":8.14},"y2":{"datum":9.215}}},
{"transform":[{"aggregate":[{"op":"count","as":"n"}],"groupby":["region"]}],"mark":{"type":"text","font":"DejaVu Sans","fontSize":15,"color":"#1a1a1a"},"encoding":{"y":{"datum":8.68},"text":{"field":"region","type":"nominal"}}}
]},
{"width":237,"height":241,"transform":[{"filter":{"field":"region","equal":"hhs3"}}],"layer":[
{"transform":[{"fold":["truth","XGB Default","XGB Tuned"],"as":["series","value"]},{"filter":"isValid(datum.value)"}],"mark":{"type":"line","strokeWidth":1.8,"strokeJoin":"round"},"encoding":{
"x":{"field":"week","type":"quantitative","scale":{"domain":[-0.6,34.6],"nice":false,"zero":false},"axis":{"values":[0,5,10,15,20,25,30],"gridWidth":{"condition":{"test":"datum.value % 10 === 0","value":2},"value":1},"ticks":false,"labels":false,"title":null}},
"y":{"field":"value","type":"quantitative","scale":{"domain":[-0.04,9.215],"nice":false,"zero":false},"axis":{"values":[0,1,2,3,4,5,6,7,8],"gridWidth":{"condition":{"test":"datum.value % 2 === 0","value":2},"value":1},"ticks":false,"labels":false,"title":null}},
"color":{"field":"series","type":"nominal","title":"Key","scale":{"domain":["truth","XGB Default","XGB Tuned"],"range":["#000000","#0000ff","#ff0000"]}}}},
{"transform":[{"aggregate":[{"op":"count","as":"n"}],"groupby":["region"]}],"mark":{"type":"rect","fill":"#d9d9d9","stroke":"#333333","strokeWidth":1.2},"encoding":{"x":{"datum":-0.6},"x2":{"datum":34.6},"y":{"datum":8.14},"y2":{"datum":9.215}}},
{"transform":[{"aggregate":[{"op":"count","as":"n"}],"groupby":["region"]}],"mark":{"type":"text","font":"DejaVu Sans","fontSize":15,"color":"#1a1a1a"},"encoding":{"y":{"datum":8.68},"text":{"field":"region","type":"nominal"}}}
]},
{"width":237,"height":241,"transform":[{"filter":{"field":"region","equal":"hhs4"}}],"layer":[
{"transform":[{"fold":["truth","XGB Default","XGB Tuned"],"as":["series","value"]},{"filter":"isValid(datum.value)"}],"mark":{"type":"line","strokeWidth":1.8,"strokeJoin":"round"},"encoding":{
"x":{"field":"week","type":"quantitative","scale":{"domain":[-0.6,34.6],"nice":false,"zero":false},"axis":{"values":[0,5,10,15,20,25,30],"gridWidth":{"condition":{"test":"datum.value % 10 === 0","value":2},"value":1},"ticks":false,"labels":false,"title":null}},
"y":{"field":"value","type":"quantitative","scale":{"domain":[-0.04,9.215],"nice":false,"zero":false},"axis":{"values":[0,1,2,3,4,5,6,7,8],"gridWidth":{"condition":{"test":"datum.value % 2 === 0","value":2},"value":1},"tickOpacity":{"condition":{"test":"datum.value % 2 === 0","value":1},"value":0},"labelExpr":"datum.value % 2 === 0 ? datum.label : ''","title":"Influenza−like−illness %","titlePadding":10,"titleY":136}},
"color":{"field":"series","type":"nominal","title":"Key","scale":{"domain":["truth","XGB Default","XGB Tuned"],"range":["#000000","#0000ff","#ff0000"]}}}},
{"transform":[{"aggregate":[{"op":"count","as":"n"}],"groupby":["region"]}],"mark":{"type":"rect","fill":"#d9d9d9","stroke":"#333333","strokeWidth":1.2},"encoding":{"x":{"datum":-0.6},"x2":{"datum":34.6},"y":{"datum":8.14},"y2":{"datum":9.215}}},
{"transform":[{"aggregate":[{"op":"count","as":"n"}],"groupby":["region"]}],"mark":{"type":"text","font":"DejaVu Sans","fontSize":15,"color":"#1a1a1a"},"encoding":{"y":{"datum":8.68},"text":{"field":"region","type":"nominal"}}}
]},
{"width":237,"height":241,"transform":[{"filter":{"field":"region","equal":"hhs5"}}],"layer":[
{"transform":[{"fold":["truth","XGB Default","XGB Tuned"],"as":["series","value"]},{"filter":"isValid(datum.value)"}],"mark":{"type":"line","strokeWidth":1.8,"strokeJoin":"round"},"encoding":{
"x":{"field":"week","type":"quantitative","scale":{"domain":[-0.6,34.6],"nice":false,"zero":false},"axis":{"values":[0,5,10,15,20,25,30],"gridWidth":{"condition":{"test":"datum.value % 10 === 0","value":2},"value":1},"ticks":false,"labels":false,"title":null}},
"y":{"field":"value","type":"quantitative","scale":{"domain":[-0.04,9.215],"nice":false,"zero":false},"axis":{"values":[0,1,2,3,4,5,6,7,8],"gridWidth":{"condition":{"test":"datum.value % 2 === 0","value":2},"value":1},"ticks":false,"labels":false,"title":null}},
"color":{"field":"series","type":"nominal","title":"Key","scale":{"domain":["truth","XGB Default","XGB Tuned"],"range":["#000000","#0000ff","#ff0000"]}}}},
{"transform":[{"aggregate":[{"op":"count","as":"n"}],"groupby":["region"]}],"mark":{"type":"rect","fill":"#d9d9d9","stroke":"#333333","strokeWidth":1.2},"encoding":{"x":{"datum":-0.6},"x2":{"datum":34.6},"y":{"datum":8.14},"y2":{"datum":9.215}}},
{"transform":[{"aggregate":[{"op":"count","as":"n"}],"groupby":["region"]}],"mark":{"type":"text","font":"DejaVu Sans","fontSize":15,"color":"#1a1a1a"},"encoding":{"y":{"datum":8.68},"text":{"field":"region","type":"nominal"}}}
]},
{"width":237,"height":241,"transform":[{"filter":{"field":"region","equal":"hhs6"}}],"layer":[
{"transform":[{"fold":["truth","XGB Default","XGB Tuned"],"as":["series","value"]},{"filter":"isValid(datum.value)"}],"mark":{"type":"line","strokeWidth":1.8,"strokeJoin":"round"},"encoding":{
"x":{"field":"week","type":"quantitative","scale":{"domain":[-0.6,34.6],"nice":false,"zero":false},"axis":{"values":[0,5,10,15,20,25,30],"gridWidth":{"condition":{"test":"datum.value % 10 === 0","value":2},"value":1},"ticks":false,"labels":false,"title":null}},
"y":{"field":"value","type":"quantitative","scale":{"domain":[-0.04,9.215],"nice":false,"zero":false},"axis":{"values":[0,1,2,3,4,5,6,7,8],"gridWidth":{"condition":{"test":"datum.value % 2 === 0","value":2},"value":1},"ticks":false,"labels":false,"title":null}},
"color":{"field":"series","type":"nominal","title":"Key","scale":{"domain":["truth","XGB Default","XGB Tuned"],"range":["#000000","#0000ff","#ff0000"]}}}},
{"transform":[{"aggregate":[{"op":"count","as":"n"}],"groupby":["region"]}],"mark":{"type":"rect","fill":"#d9d9d9","stroke":"#333333","strokeWidth":1.2},"encoding":{"x":{"datum":-0.6},"x2":{"datum":34.6},"y":{"datum":8.14},"y2":{"datum":9.215}}},
{"transform":[{"aggregate":[{"op":"count","as":"n"}],"groupby":["region"]}],"mark":{"type":"text","font":"DejaVu Sans","fontSize":15,"color":"#1a1a1a"},"encoding":{"y":{"datum":8.68},"text":{"field":"region","type":"nominal"}}}
]},
{"width":237,"height":241,"transform":[{"filter":{"field":"region","equal":"hhs7"}}],"layer":[
{"transform":[{"fold":["truth","XGB Default","XGB Tuned"],"as":["series","value"]},{"filter":"isValid(datum.value)"}],"mark":{"type":"line","strokeWidth":1.8,"strokeJoin":"round"},"encoding":{
"x":{"field":"week","type":"quantitative","scale":{"domain":[-0.6,34.6],"nice":false,"zero":false},"axis":{"values":[0,5,10,15,20,25,30],"gridWidth":{"condition":{"test":"datum.value % 10 === 0","value":2},"value":1},"tickOpacity":{"condition":{"test":"datum.value % 10 === 0","value":1},"value":0},"labelExpr":"datum.value % 10 === 0 ? datum.label : ''","title":null}},
"y":{"field":"value","type":"quantitative","scale":{"domain":[-0.04,9.215],"nice":false,"zero":false},"axis":{"values":[0,1,2,3,4,5,6,7,8],"gridWidth":{"condition":{"test":"datum.value % 2 === 0","value":2},"value":1},"ticks":false,"labels":false,"title":null}},
"color":{"field":"series","type":"nominal","title":"Key","scale":{"domain":["truth","XGB Default","XGB Tuned"],"range":["#000000","#0000ff","#ff0000"]}}}},
{"transform":[{"aggregate":[{"op":"count","as":"n"}],"groupby":["region"]}],"mark":{"type":"rect","fill":"#d9d9d9","stroke":"#333333","strokeWidth":1.2},"encoding":{"x":{"datum":-0.6},"x2":{"datum":34.6},"y":{"datum":8.14},"y2":{"datum":9.215}}},
{"transform":[{"aggregate":[{"op":"count","as":"n"}],"groupby":["region"]}],"mark":{"type":"text","font":"DejaVu Sans","fontSize":15,"color":"#1a1a1a"},"encoding":{"y":{"datum":8.68},"text":{"field":"region","type":"nominal"}}}
]},
{"width":237,"height":241,"transform":[{"filter":{"field":"region","equal":"hhs8"}}],"layer":[
{"transform":[{"fold":["truth","XGB Default","XGB Tuned"],"as":["series","value"]},{"filter":"isValid(datum.value)"}],"mark":{"type":"line","strokeWidth":1.8,"strokeJoin":"round"},"encoding":{
"x":{"field":"week","type":"quantitative","scale":{"domain":[-0.6,34.6],"nice":false,"zero":false},"axis":{"values":[0,5,10,15,20,25,30],"gridWidth":{"condition":{"test":"datum.value % 10 === 0","value":2},"value":1},"tickOpacity":{"condition":{"test":"datum.value % 10 === 0","value":1},"value":0},"labelExpr":"datum.value % 10 === 0 ? datum.label : ''","title":null}},
"y":{"field":"value","type":"quantitative","scale":{"domain":[-0.04,9.215],"nice":false,"zero":false},"axis":{"values":[0,1,2,3,4,5,6,7,8],"gridWidth":{"condition":{"test":"datum.value % 2 === 0","value":2},"value":1},"tickOpacity":{"condition":{"test":"datum.value % 2 === 0","value":1},"value":0},"labelExpr":"datum.value % 2 === 0 ? datum.label : ''","title":null}},
"color":{"field":"series","type":"nominal","title":"Key","scale":{"domain":["truth","XGB Default","XGB Tuned"],"range":["#000000","#0000ff","#ff0000"]}}}},
{"transform":[{"aggregate":[{"op":"count","as":"n"}],"groupby":["region"]}],"mark":{"type":"rect","fill":"#d9d9d9","stroke":"#333333","strokeWidth":1.2},"encoding":{"x":{"datum":-0.6},"x2":{"datum":34.6},"y":{"datum":8.14},"y2":{"datum":9.215}}},
{"transform":[{"aggregate":[{"op":"count","as":"n"}],"groupby":["region"]}],"mark":{"type":"text","font":"DejaVu Sans","fontSize":15,"color":"#1a1a1a"},"encoding":{"y":{"datum":8.68},"text":{"field":"region","type":"nominal"}}}
]},
{"width":237,"height":241,"transform":[{"filter":{"field":"region","equal":"hhs9"}}],"layer":[
{"transform":[{"fold":["truth","XGB Default","XGB Tuned"],"as":["series","value"]},{"filter":"isValid(datum.value)"}],"mark":{"type":"line","strokeWidth":1.8,"strokeJoin":"round"},"encoding":{
"x":{"field":"week","type":"quantitative","scale":{"domain":[-0.6,34.6],"nice":false,"zero":false},"axis":{"values":[0,5,10,15,20,25,30],"gridWidth":{"condition":{"test":"datum.value % 10 === 0","value":2},"value":1},"tickOpacity":{"condition":{"test":"datum.value % 10 === 0","value":1},"value":0},"labelExpr":"datum.value % 10 === 0 ? datum.label : ''","title":"Week of forecast in season","titleX":243,"titlePadding":4}},
"y":{"field":"value","type":"quantitative","scale":{"domain":[-0.04,9.215],"nice":false,"zero":false},"axis":{"values":[0,1,2,3,4,5,6,7,8],"gridWidth":{"condition":{"test":"datum.value % 2 === 0","value":2},"value":1},"ticks":false,"labels":false,"title":null}},
"color":{"field":"series","type":"nominal","title":"Key","scale":{"domain":["truth","XGB Default","XGB Tuned"],"range":["#000000","#0000ff","#ff0000"]}}}},
{"transform":[{"aggregate":[{"op":"count","as":"n"}],"groupby":["region"]}],"mark":{"type":"rect","fill":"#d9d9d9","stroke":"#333333","strokeWidth":1.2},"encoding":{"x":{"datum":-0.6},"x2":{"datum":34.6},"y":{"datum":8.14},"y2":{"datum":9.215}}},
{"transform":[{"aggregate":[{"op":"count","as":"n"}],"groupby":["region"]}],"mark":{"type":"text","font":"DejaVu Sans","fontSize":15,"color":"#1a1a1a"},"encoding":{"y":{"datum":8.68},"text":{"field":"region","type":"nominal"}}}
]},
{"width":237,"height":241,"transform":[{"filter":{"field":"region","equal":"nat"}}],"layer":[
{"transform":[{"fold":["truth","XGB Default","XGB Tuned"],"as":["series","value"]},{"filter":"isValid(datum.value)"}],"mark":{"type":"line","strokeWidth":1.8,"strokeJoin":"round"},"encoding":{
"x":{"field":"week","type":"quantitative","scale":{"domain":[-0.6,34.6],"nice":false,"zero":false},"axis":{"values":[0,5,10,15,20,25,30],"gridWidth":{"condition":{"test":"datum.value % 10 === 0","value":2},"value":1},"tickOpacity":{"condition":{"test":"datum.value % 10 === 0","value":1},"value":0},"labelExpr":"datum.value % 10 === 0 ? datum.label : ''","title":null}},
"y":{"field":"value","type":"quantitative","scale":{"domain":[-0.04,9.215],"nice":false,"zero":false},"axis":{"values":[0,1,2,3,4,5,6,7,8],"gridWidth":{"condition":{"test":"datum.value % 2 === 0","value":2},"value":1},"ticks":false,"labels":false,"title":null}},
"color":{"field":"series","type":"nominal","title":"Key","scale":{"domain":["truth","XGB Default","XGB Tuned"],"range":["#000000","#0000ff","#ff0000"]}}}},
{"transform":[{"aggregate":[{"op":"count","as":"n"}],"groupby":["region"]}],"mark":{"type":"rect","fill":"#d9d9d9","stroke":"#333333","strokeWidth":1.2},"encoding":{"x":{"datum":-0.6},"x2":{"datum":34.6},"y":{"datum":8.14},"y2":{"datum":9.215}}},
{"transform":[{"aggregate":[{"op":"count","as":"n"}],"groupby":["region"]}],"mark":{"type":"text","font":"DejaVu Sans","fontSize":15,"color":"#1a1a1a"},"encoding":{"y":{"datum":8.68},"text":{"field":"region","type":"nominal"}}}
]}
],
"config":{
"view":{"stroke":"#333333","strokeWidth":1.2},
"axis":{"domain":false,"grid":true,"gridColor":"#ebebeb","tickColor":"#333333","tickWidth":1.2,"labelColor":"#4d4d4d","labelFont":"DejaVu Sans","titleFont":"DejaVu Sans","titleFontSize":20,"titleFontWeight":"normal","titleColor":"#000000","labelOverlap":false,"labelFlush":false},
"axisX":{"tickSize":4.5,"labelPadding":3,"labelFontSize":15},
"axisY":{"tickSize":8,"labelPadding":6,"labelFontSize":14},
"legend":{"orient":"none","legendX":793,"legendY":580,"titleFont":"DejaVu Sans","titleFontSize":19,"titleFontWeight":"normal","titleColor":"#000000","labelFont":"DejaVu Sans","labelFontSize":17,"labelColor":"#000000","symbolType":"stroke","symbolSize":484,"symbolStrokeWidth":1.8,"symbolOffset":2,"rowPadding":9,"titlePadding":6,"labelOffset":12}
}
}
